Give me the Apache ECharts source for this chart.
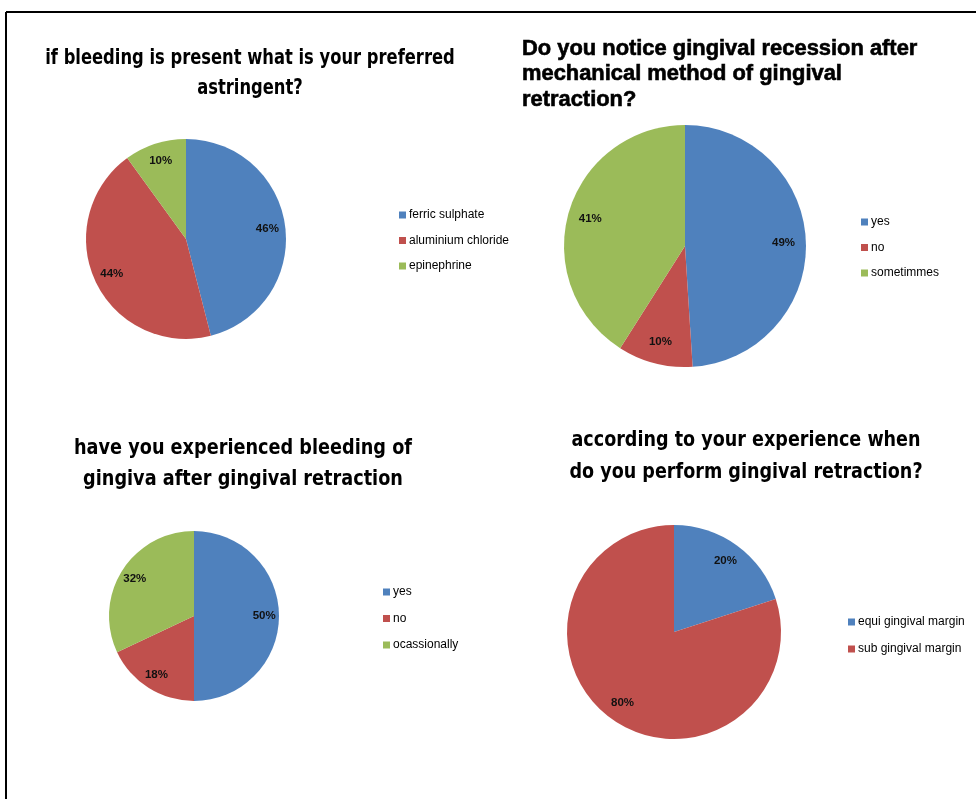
<!DOCTYPE html>
<html>
<head>
<meta charset="utf-8">
<script src="https://cdn.jsdelivr.net/npm/echarts@6/dist/echarts.min.js"></script>
<style>html,body{margin:0;padding:0;background:#fff}#c{width:976px;height:799px}</style>
</head>
<body>
<div id="c"></div>
<script>
// ---- data ----
const astringentCats = ['ferric sulphate', 'aluminium chloride', 'epinephrine'];
const astringentVals = [46, 44, 10];
const recessionCats = ['yes', 'no', 'sometimmes'];
const recessionVals = [49, 10, 41];
const bleedingCats = ['yes', 'no', 'ocassionally'];
const bleedingVals = [50, 18, 32];
const timingCats = ['equi gingival margin', 'sub gingival margin'];
const timingVals = [20, 80];

const titles = [
  'if bleeding is present what is your preferred\nastringent?',
  'Do you notice gingival recession after\nmechanical method of gingival\nretraction?',
  'have you experienced bleeding of\ngingiva after gingival retraction',
  'according to your experience when\ndo you perform gingival retraction?'
];

const COLORS = ['#4F81BD', '#C0504D', '#9BBB59'];
const NARROW = '"Liberation Sans Narrow","DejaVu Sans Condensed",sans-serif';

function toData(cats, vals, transparent) {
  return cats.map((c, i) => ({
    name: c, value: vals[i],
    itemStyle: { color: transparent ? 'rgba(0,0,0,0)' : COLORS[i] }
  }));
}

const pies = [
  { cats: astringentCats, vals: astringentVals, center: [186, 239], r: 100 },
  { cats: recessionCats, vals: recessionVals, center: [685, 246], r: 121 },
  { cats: bleedingCats, vals: bleedingVals, center: [194, 616], r: 85 },
  { cats: timingCats, vals: timingVals, center: [674, 632], r: 107 }
];

const series = [];
pies.forEach(p => {
  series.push({
    type: 'pie', center: p.center, radius: [0, p.r], startAngle: 90, clockwise: true,
    silent: true, animation: false, label: { show: false }, labelLine: { show: false },
    itemStyle: { borderWidth: 0 },
    data: toData(p.cats, p.vals, false)
  });
});
pies.forEach(p => {
  series.push({
    type: 'pie', center: p.center, radius: [p.r * 0.58, p.r], startAngle: 90, clockwise: true,
    silent: true, animation: false, legendHoverLink: false,
    itemStyle: { borderWidth: 0 },
    label: { show: true, position: 'inside', formatter: '{c}%', color: '#111',
      fontSize: 11.5, fontWeight: 'bold', fontFamily: 'Liberation Sans, sans-serif' },
    labelLine: { show: false },
    data: toData(p.cats, p.vals, true)
  });
});

const legendPos = [[394, 204, 13.5], [856, 211, 13.5], [378, 581, 14.5], [843, 611, 15]];
const legend = pies.map((p, i) => ({
  orient: 'vertical', left: legendPos[i][0], top: legendPos[i][1],
  data: p.cats, icon: 'rect', itemWidth: 7, itemHeight: 7, itemGap: legendPos[i][2],
  selectedMode: false,
  textStyle: { fontSize: 12, color: '#000', fontFamily: 'Liberation Sans, sans-serif', padding: [0, 0, 0, -2] }
}));

const graphic = [
  { type: 'line', shape: { x1: 6, y1: 12, x2: 976, y2: 12 }, style: { stroke: '#000', lineWidth: 2 } },
  { type: 'line', shape: { x1: 6, y1: 12, x2: 6, y2: 799 }, style: { stroke: '#000', lineWidth: 2 } },
  { type: 'text', x: 250, y: 74, scaleX: 0.865, style: { text: titles[0], align: 'center', verticalAlign: 'middle',
      font: 'bold 21px ' + NARROW, lineHeight: 30, fill: '#000' } },
  { type: 'text', x: 522, y: 74, scaleX: 0.995, style: { text: titles[1], align: 'left', verticalAlign: 'middle',
      font: 'bold 22px "Liberation Sans", Arial, sans-serif', lineHeight: 25.5, fill: '#000',
      stroke: '#000', lineWidth: 0.6 } },
  { type: 'text', x: 243, y: 464, scaleX: 0.936, style: { text: titles[2], align: 'center', verticalAlign: 'middle',
      font: 'bold 21px ' + NARROW, lineHeight: 31, fill: '#000' } },
  { type: 'text', x: 746, y: 457, scaleX: 0.93, style: { text: titles[3], align: 'center', verticalAlign: 'middle',
      font: 'bold 21px ' + NARROW, lineHeight: 32, fill: '#000' } }
];

const chart = echarts.init(document.getElementById('c'), null, { renderer: 'canvas' });
chart.setOption({
  animation: false,
  backgroundColor: '#fff',
  legend: legend,
  graphic: graphic,
  series: series
});
</script>
</body>
</html>
